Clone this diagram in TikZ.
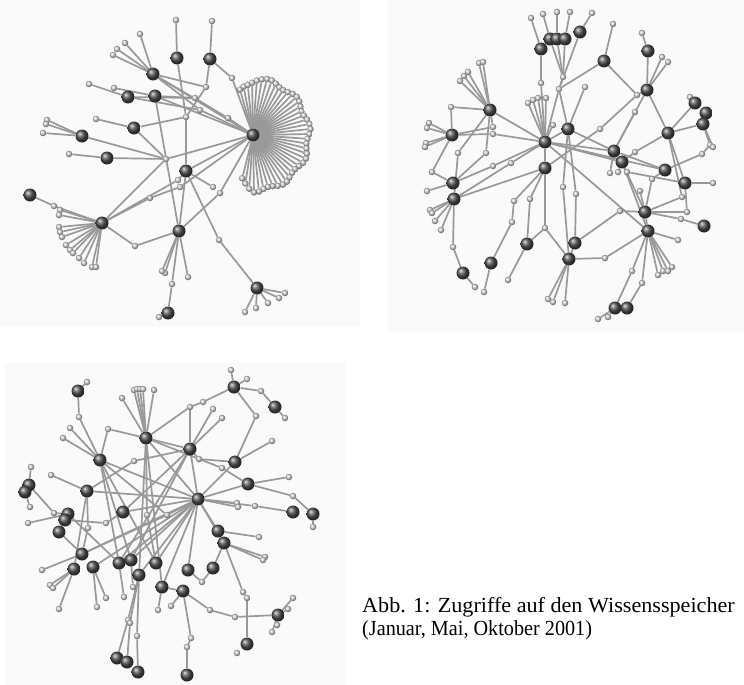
\documentclass[tikz,border=0pt]{standalone}
\usepackage{fontspec}
\usepackage{graphicx}
\setmainfont{Liberation Serif}
\pgfdeclarelayer{paper}
\pgfdeclarelayer{bg}
\pgfsetlayers{paper,bg,main}
\tikzset{
  dk/.style={circle,inner sep=0pt,minimum size=13pt,shading=ball,ball color=black!68},
  lt/.style={circle,inner sep=0pt,minimum size=6.5pt,shading=ball,ball color=black!16},
  ed/.style={black!40,line width=1.7pt},
  panel/.style={fill=black!2},
  captext/.style={anchor=base west,inner sep=0pt,font=\fontsize{21.5}{26}\selectfont}
}
\begin{document}
\begin{tikzpicture}[x=1pt,y=-1pt]
\useasboundingbox (0,0) rectangle (744,685);
\begin{pgfonlayer}{paper}
\fill[panel] (0,0) rectangle (360,327);
\fill[panel] (388,0) rectangle (744,332);
\fill[panel] (5,363) rectangle (346,685);
\end{pgfonlayer}

% ================= PANEL 1 =================
\foreach \a [count=\i] in {106,101,...,-104} {
  \pgfmathsetmacro\rr{56+2*sin(11*\a)-0.6*max(0,abs(\a)-88)}
  \node[lt] (hf\i) at ({253+\rr*cos(\a)},{135-\rr*sin(\a)}) {};
}
\foreach \p [count=\i] in {(60,210),(59,215),(59,227),(60,232),(62,237),(66,245),(70,250),(73,253),(79,258),(84,263),(92,267),(96,267)}
  \node[lt] (kf\i) at \p {};
\foreach \p [count=\i] in {(245,312),(256,308),(268,303),(279,298),(285,293)}
  \node[lt] (mf\i) at \p {};
\node[lt] (a1) at (176,20) {};
\node[lt] (b1) at (212,21) {};
\node[lt] (b2) at (232,78) {};
\node[lt] (c1) at (113,55) {};
\node[lt] (c2) at (117,49) {};
\node[lt] (c3) at (125,43) {};
\node[lt] (c4) at (140,34) {};
\node[lt] (d1) at (89,84) {};
\node[lt] (e1) at (114,88) {};
\node[lt] (m1) at (206,87) {};
\node[lt] (m2) at (195,98) {};
\node[lt] (m3) at (200,110) {};
\node[lt] (m4) at (186,117) {};
\node[lt] (m5) at (228,118) {};
\node[lt] (f1) at (96,119) {};
\node[lt] (g1) at (47,120) {};
\node[lt] (g2) at (46,124) {};
\node[lt] (g3) at (43,133) {};
\node[lt] (h1) at (69,154) {};
\node[lt] (jn) at (166,159) {};
\node[lt] (i1) at (213,187) {};
\node[lt] (i2) at (219,240) {};
\node[lt] (i3) at (178,180) {};
\node[lt] (j1) at (54,206) {};
\node[lt] (kb) at (135,246) {};
\node[lt] (k1) at (150,198) {};
\node[lt] (k2) at (180,187) {};
\node[lt] (l1) at (165,273) {};
\node[lt] (l2) at (162,271) {};
\node[lt] (l3) at (188,277) {};
\node[lt] (lm) at (172,284) {};
\node[lt] (l4) at (220,193) {};
\node[lt] (n1) at (159,317) {};
\node[dk] (A1) at (177,58) {};
\node[dk] (B1) at (210,59) {};
\node[dk] (C1) at (153,74) {};
\node[dk] (D1) at (128,97) {};
\node[dk] (E1) at (155,96) {};
\node[dk] (F1) at (134,128) {};
\node[dk] (G1) at (82,136) {};
\node[dk] (H1) at (107,158) {};
\node[dk] (HB) at (253,135) {};
\node[dk] (I1) at (186,171) {};
\node[dk] (J1) at (30,195) {};
\node[dk] (K1) at (102,223) {};
\node[dk] (L1) at (179,231) {};
\node[dk] (M1) at (257,288) {};
\node[dk] (N1) at (168,313) {};

% ================= PANEL 2 =================
\foreach \p [count=\i] in {(479,63),(483,62),(468,72),(464,76),(460,81)} \node[lt] (q9f\i) at \p {};
\foreach \p [count=\i] in {(429,123),(427,128),(426,143),(425,147)} \node[lt] (q10f\i) at \p {};
\foreach \p [count=\i] in {(528,103),(533,100),(538,98),(546,98)} \node[lt] (qhf\i) at \p {};
\foreach \p [count=\i] in {(430,210),(432,213),(435,221),(441,230)} \node[lt] (q22f\i) at \p {};
\foreach \p [count=\i] in {(548,299),(553,302),(565,303)} \node[lt] (q28f\i) at \p {};
\foreach \p [count=\i] in {(658,275),(663,271),(668,271),(672,267),(678,240)} \node[lt] (q24f\i) at \p {};
\node[lt] (qa1) at (531,18) {};
\node[lt] (qa2) at (543,14) {};
\node[lt] (qa3) at (557,12) {};
\node[lt] (qa4) at (570,12) {};
\node[lt] (qa5) at (592,13) {};
\node[lt] (qb1) at (541,83) {};
\node[lt] (qb2) at (563,77) {};
\node[lt] (qb3) at (559,89) {};
\node[lt] (qb4) at (585,87) {};
\node[lt] (qc1) at (613,24) {};
\node[lt] (qc2) at (642,33) {};
\node[lt] (qc3) at (662,57) {};
\node[lt] (qc4) at (668,62) {};
\node[lt] (qc5) at (637,95) {};
\node[lt] (qc6) at (635,112) {};
\node[lt] (qd1) at (600,129) {};
\node[lt] (q9a) at (451,107) {};
\node[lt] (q9b) at (493,127) {};
\node[lt] (q9c) at (493,134) {};
\node[lt] (q9d) at (486,153) {};
\node[lt] (q9e) at (458,153) {};
\node[lt] (q10e) at (432,172) {};
\node[lt] (qh5) at (553,125) {};
\node[lt] (q21a) at (427,191) {};
\node[lt] (q21b) at (493,166) {};
\node[lt] (q21c) at (511,163) {};
\node[lt] (q22a) at (453,247) {};
\node[lt] (q30a) at (475,287) {};
\node[lt] (q18a) at (530,199) {};
\node[lt] (q18b) at (545,228) {};
\node[lt] (q18c) at (514,201) {};
\node[lt] (q29a) at (512,222) {};
\node[lt] (q29b) at (484,292) {};
\node[lt] (q26a) at (508,280) {};
\node[lt] (q11a) at (563,187) {};
\node[lt] (q11b) at (576,194) {};
\node[lt] (q28a) at (605,258) {};
\node[lt] (q16b) at (610,173) {};
\node[lt] (q16c) at (618,172) {};
\node[lt] (q16d) at (627,172) {};
\node[lt] (q23a) at (652,179) {};
\node[lt] (q23b) at (640,191) {};
\node[lt] (q23c) at (620,211) {};
\node[lt] (q23d) at (681,219) {};
\node[lt] (q23e) at (687,212) {};
\node[lt] (q23f) at (682,197) {};
\node[lt] (q24a) at (632,271) {};
\node[lt] (q24b) at (642,283) {};
\node[lt] (q31a) at (598,319) {};
\node[lt] (q31b) at (608,317) {};
\node[lt] (q12a) at (690,97) {};
\node[lt] (q14a) at (710,145) {};
\node[lt] (q14b) at (713,147) {};
\node[lt] (q14c) at (702,154) {};
\node[lt] (q20a) at (713,183) {};
\node[lt] (qx1) at (635,152) {};
\node[dk] (Q1) at (541,49) {};
\node[dk] (Q2) at (550,39) {};
\node[dk] (Q3) at (557,39) {};
\node[dk] (Q4) at (565,39) {};
\node[dk] (Q5) at (580,32) {};
\node[dk] (Q6) at (604,61) {};
\node[dk] (Q7) at (648,51) {};
\node[dk] (Q8) at (647,90) {};
\node[dk] (Q9) at (490,110) {};
\node[dk] (Q10) at (452,135) {};
\node[dk] (QH) at (545,142) {};
\node[dk] (Q11) at (568,129) {};
\node[dk] (Q12) at (695,103) {};
\node[dk] (Q13) at (706,113) {};
\node[dk] (Q14) at (703,124) {};
\node[dk] (Q15) at (668,133) {};
\node[dk] (Q16) at (614,151) {};
\node[dk] (Q17) at (622,162) {};
\node[dk] (Q18) at (545,168) {};
\node[dk] (Q19) at (665,170) {};
\node[dk] (Q20) at (685,183) {};
\node[dk] (Q21) at (453,183) {};
\node[dk] (Q22) at (454,199) {};
\node[dk] (Q23) at (645,212) {};
\node[dk] (Q24) at (648,231) {};
\node[dk] (Q25) at (704,226) {};
\node[dk] (Q26) at (527,244) {};
\node[dk] (Q27) at (575,243) {};
\node[dk] (Q28) at (569,259) {};
\node[dk] (Q29) at (491,263) {};
\node[dk] (Q30) at (463,273) {};
\node[dk] (Q31) at (615,308) {};
\node[dk] (Q32) at (627,308) {};

% ================= PANEL 3 =================
\foreach \p [count=\i] in {(134,390),(137,389),(140,389),(143,389),(154,390),(122,398)} \node[lt] (r4f\i) at \p {};
\foreach \p [count=\i] in {(293,598),(288,609),(277,625),(272,632)} \node[lt] (r30f\i) at \p {};
\node[lt] (r1a) at (87,382) {};
\node[lt] (r1b) at (79,417) {};
\node[lt] (r2f1) at (231,370) {};
\node[lt] (r2f2) at (247,379) {};
\node[lt] (r2a) at (261,391) {};
\node[lt] (r2b) at (256,416) {};
\node[lt] (r2c) at (203,402) {};
\node[lt] (r2d) at (190,407) {};
\node[lt] (r3a) at (285,418) {};
\node[lt] (r4a) at (108,429) {};
\node[lt] (r4c) at (147,515) {};
\node[lt] (r5a) at (213,409) {};
\node[lt] (r5b) at (222,418) {};
\node[lt] (r5c) at (199,459) {};
\node[lt] (r5d) at (134,461) {};
\node[lt] (r6a) at (70,428) {};
\node[lt] (r6b) at (63,438) {};
\node[lt] (r6c) at (167,515) {};
\node[lt] (r7a) at (272,441) {};
\node[lt] (r8a) at (31,467) {};
\node[lt] (r8b) at (30,507) {};
\node[lt] (r8c) at (54,513) {};
\node[lt] (r9a) at (51,475) {};
\node[lt] (r9b) at (88,528) {};
\node[lt] (r10a) at (289,477) {};
\node[lt] (r10b) at (222,468) {};
\node[lt] (r10c) at (293,496) {};
\node[lt] (r11a) at (237,503) {};
\node[lt] (r11b) at (238,507) {};
\node[lt] (r11c) at (255,506) {};
\node[lt] (r12a) at (28,523) {};
\node[lt] (r12b) at (106,523) {};
\node[lt] (r15a) at (313,527) {};
\node[lt] (r17a) at (259,537) {};
\node[lt] (r18a) at (265,557) {};
\node[lt] (r18b) at (263,560) {};
\node[lt] (r18c) at (243,592) {};
\node[lt] (r18d) at (247,598) {};
\node[lt] (r19a) at (42,570) {};
\node[lt] (r20a) at (50,585) {};
\node[lt] (r20b) at (53,588) {};
\node[lt] (r20c) at (59,609) {};
\node[lt] (r21a) at (106,598) {};
\node[lt] (r21b) at (97,607) {};
\node[lt] (r22a) at (124,597) {};
\node[lt] (r23a) at (133,587) {};
\node[lt] (r25a) at (128,620) {};
\node[lt] (r25b) at (130,623) {};
\node[lt] (r25c) at (137,636) {};
\node[lt] (r26a) at (202,582) {};
\node[lt] (r28a) at (158,610) {};
\node[lt] (r29a) at (171,606) {};
\node[lt] (r29b) at (191,638) {};
\node[lt] (r29c) at (187,647) {};
\node[lt] (r29d) at (210,610) {};
\node[lt] (r30a) at (235,617) {};
\node[lt] (r31a) at (237,653) {};
\node[dk] (R1) at (78,391) {};
\node[dk] (R2) at (234,387) {};
\node[dk] (R3) at (275,407) {};
\node[dk] (R4) at (146,438) {};
\node[dk] (R5) at (190,449) {};
\node[dk] (R6) at (100,460) {};
\node[dk] (R7) at (235,462) {};
\node[dk] (R8) at (29,485) {};
\node[dk] (R8b) at (25,492) {};
\node[dk] (R9) at (87,491) {};
\node[dk] (R10) at (248,484) {};
\node[dk] (R11) at (198,499) {};
\node[dk] (R12) at (68,514) {};
\node[dk] (R12b) at (65,520) {};
\node[dk] (R13) at (123,512) {};
\node[dk] (R14) at (293,512) {};
\node[dk] (R15) at (313,514) {};
\node[dk] (R16) at (59,532) {};
\node[dk] (R17) at (218,531) {};
\node[dk] (R18) at (224,543) {};
\node[dk] (R19) at (82,554) {};
\node[dk] (R20) at (74,569) {};
\node[dk] (R21) at (93,567) {};
\node[dk] (R22) at (119,563) {};
\node[dk] (R23) at (131,560) {};
\node[dk] (R24) at (156,563) {};
\node[dk] (R25) at (139,575) {};
\node[dk] (R26) at (188,570) {};
\node[dk] (R27) at (213,568) {};
\node[dk] (R28) at (162,587) {};
\node[dk] (R29) at (183,591) {};
\node[dk] (R30) at (278,615) {};
\node[dk] (R31) at (247,644) {};
\node[dk] (R32) at (117,658) {};
\node[dk] (R32b) at (127,662) {};
\node[dk] (R33) at (138,672) {};
\node[dk] (R34) at (187,675) {};

% ================= EDGES =================
\begin{pgfonlayer}{bg}
\begin{scope}[ed]
\foreach \i in {1,...,43} \draw (HB) -- (hf\i);
\foreach \i in {1,...,12} \draw (K1) -- (kf\i);
\foreach \i in {1,...,5} \draw (M1) -- (mf\i);
\foreach \u/\v in {A1/a1,A1/m4,m4/I1,B1/b1,B1/b2,b2/HB,B1/m1,m1/m4,C1/c1,C1/c2,C1/c3,C1/c4,C1/HB,C1/m1,C1/m3,C1/m5,m5/HB,
  D1/d1,D1/m3,D1/m2,E1/e1,E1/m2,E1/HB,E1/L1,m2/HB,m3/HB,F1/f1,F1/m4,F1/jn,G1/g1,G1/g2,G1/g3,G1/jn,H1/h1,H1/jn,jn/HB,K1/jn,
  I1/HB,I1/i1,I1/i2,i2/M1,I1/i3,i3/K1,K1/k1,k1/k2,k2/HB,K1/j1,j1/J1,K1/kb,kb/L1,L1/l1,L1/l2,L1/l3,L1/lm,lm/N1,N1/n1,L1/l4,l4/HB,L1/I1}
  \draw (\u) -- (\v);
\foreach \i in {1,...,5} \draw (Q9) -- (q9f\i);
\foreach \i in {1,...,4} \draw (Q10) -- (q10f\i);
\foreach \i in {1,...,4} \draw (QH) -- (qhf\i);
\foreach \i in {1,...,4} \draw (Q22) -- (q22f\i);
\foreach \i in {1,...,3} \draw (Q28) -- (q28f\i);
\foreach \i in {1,...,5} \draw (Q24) -- (q24f\i);
\foreach \u/\v in {Q1/qa1,Q2/qa2,Q3/qa3,Q4/qa4,Q5/qa5,Q1/qb1,qb1/QH,Q2/qb2,Q3/qb2,Q4/qb2,qb2/qb3,Q5/qb3,qb3/QH,qb3/Q6,qb3/Q11,qb4/Q11,
  Q6/qc1,Q6/qc5,qc5/Q8,Q7/qc2,Q7/Q8,Q8/qc3,Q8/qc4,qc5/qd1,qd1/Q18,qc6/Q16,Q8/Q16,Q8/Q15,Q9/q9a,q9a/Q10,Q9/q9b,Q10/q9b,Q10/q9c,q9c/QH,
  Q9/QH,Q9/q9d,q9d/Q21,Q9/q9e,q9e/Q22,Q10/q10e,q10e/Q21,QH/qh5,QH/Q11,QH/Q18,QH/Q16,QH/Q17,QH/Q24,QH/Q19,QH/q21b,q21b/Q21,QH/q21c,q21c/Q22,
  Q21/q21a,Q22/q22a,q22a/Q30,Q30/q30a,Q18/q18a,q18a/Q26,Q26/q18b,Q18/q18b,q18b/Q28,Q18/q18c,q18c/q29a,q29a/Q29,Q26/q26a,Q29/q29b,
  Q11/q11a,Q11/q11b,q11b/Q27,Q27/Q28,Q28/q28a,q28a/Q24,Q16/q16b,Q17/q16c,Q16/Q19,Q17/Q23,Q17/Q24,Q17/q16d,q16d/Q20,
  Q23/q23a,q23a/Q19,Q23/q23b,Q23/q23c,q23c/Q27,Q23/q23d,q23d/Q25,Q23/q23e,q23e/Q20,Q23/q23f,q23f/Q15,Q23/Q24,
  Q24/q24a,q24a/Q31,Q24/q24b,q24b/Q32,Q31/q31a,Q31/q31b,Q12/q12a,Q12/Q15,Q14/Q15,Q13/Q14,Q14/q14a,Q14/q14b,q14a/q14c,q14c/Q19,
  Q20/q20a,Q20/Q15,Q17/qx1,qx1/Q15,Q22/Q18,Q11/Q16,q11a/Q28}
  \draw (\u) -- (\v);
\foreach \i in {1,...,6} \draw (R4) -- (r4f\i);
\foreach \i in {1,...,4} \draw (R30) -- (r30f\i);
\foreach \u/\v in {R1/r1a,R1/r1b,r1b/R6,R2/r2f1,R2/r2f2,R2/r2a,r2a/R3,R3/r3a,R2/r2b,r2b/R7,R2/r2c,r2c/r2d,r2d/R4,r2d/R5,
  R4/r4a,r4a/R6,R4/R5,R4/r10b,r10b/R10,R4/R11,R4/r4c,R4/R28,R4/R25,R5/r5a,R5/r5b,R5/r5c,R5/r5d,r5d/R9,R5/R22,R5/R23,R5/R11,
  R6/r6a,R6/r6b,R6/R11,R6/R24,R6/r6c,R7/r7a,R7/R11,R7/r5c,R8/r8a,R8b/r8b,R8/r8c,r8c/R12,R9/r9a,R9/r9b,r9b/R19,R9/R11,
  R10/r10a,R10/r10c,r10c/R15,R10/R11,R11/r11a,R11/r11b,R11/r11c,r11c/R14,R11/R17,R11/R18,R11/r6c,r6c/R19,R11/R13,R11/R19,
  R11/R22,R11/R23,R11/R25,R11/R26,R11/R28,R12/r12a,R12b/r12b,r12b/R13,R12/R22,R12b/R16,R15/r15a,R16/R19,R17/r17a,
  R18/r18a,R18/r18b,R18/R27,R18/r18c,r18c/r18d,r18d/R31,R19/r19a,R20/r20a,R20/r20b,R20/r20c,R20/R9,R21/r21a,R21/r21b,R21/R11,
  R22/r22a,R22/R6,R23/r23a,R23/R6,R24/R11,R25/r25a,r25a/R32,R25/r25b,r25b/R32b,R25/r25c,r25c/R33,R26/r26a,R27/r26a,
  R28/r28a,R28/R29,R29/r29a,R29/r29b,r29b/r29c,r29c/R34,R29/r29d,r29d/r30a,r30a/R30,R13/R5,r4c/R24}
  \draw (\u) -- (\v);
\end{scope}
\end{pgfonlayer}

% ================= CAPTION =================
\node[captext] (cap1) at (362,612) {\scalebox{1.03}[1]{Abb. 1: Zugriffe auf den Wissensspeicher}};
\node[captext] (cap2) at (362,635) {\scalebox{0.94}[1]{(Januar, Mai, Oktober 2001)}};
\end{tikzpicture}
\end{document}
